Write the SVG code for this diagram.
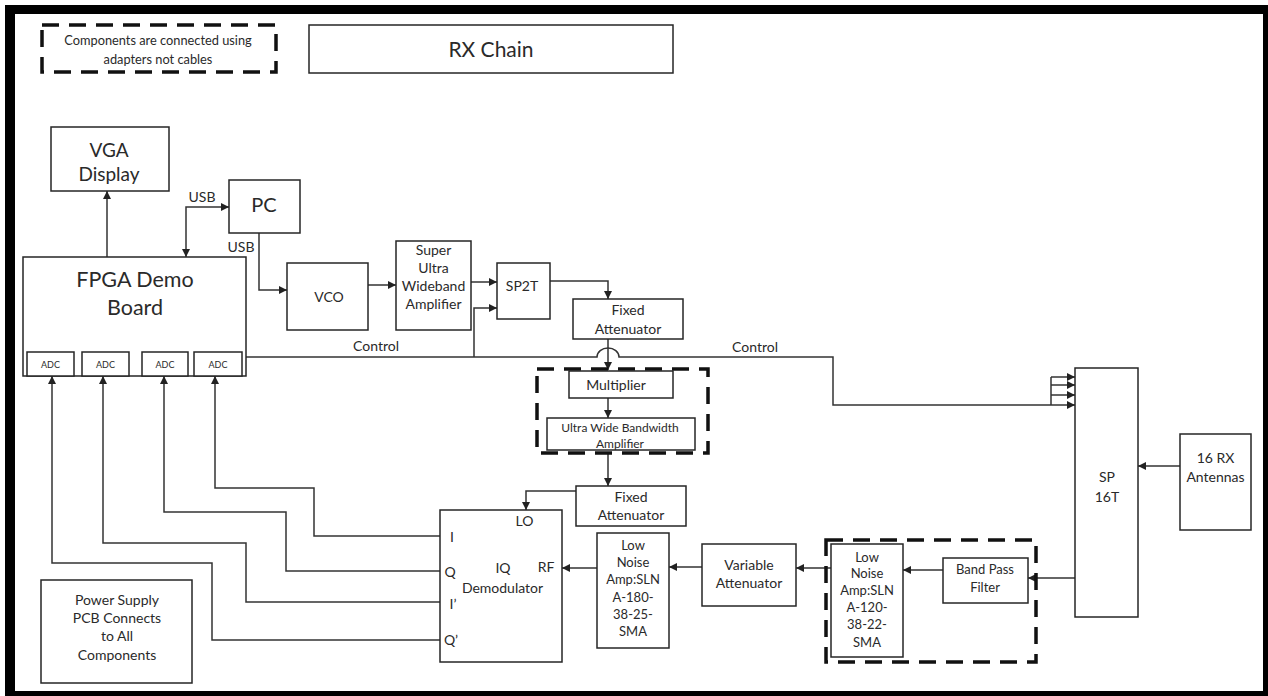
<svg xmlns="http://www.w3.org/2000/svg" width="1268" height="696" viewBox="0 0 1268 696">
  <style>
    .box { fill: #fff; stroke: #262626; stroke-width: 1.5; }
    .grp { fill: none; stroke: #111; stroke-width: 3.5; stroke-dasharray: 17 10; }
    .wire { fill: none; stroke: #333; stroke-width: 1.5; }
    .arr { marker-end: url(#head); }
    text { font-family: Lato, "Liberation Sans", sans-serif; fill: #2a2a2a; text-anchor: middle; }
    .t14 { font-size: 14px; }
    .t13 { font-size: 13px; }
    .t12 { font-size: 12px; }
    .adc { font-size: 9px; }
  </style>
  <defs>
    <marker id="head" markerUnits="userSpaceOnUse" markerWidth="9" markerHeight="8" refX="8" refY="4" orient="auto-start-reverse">
      <path d="M0,0 L8,4 L0,8 Z" fill="#222"/>
    </marker>
  </defs>

  <!-- page frame -->
  <rect x="5" y="5" width="1263" height="691" fill="#000"/>
  <rect x="15" y="14" width="1248" height="677" fill="#fff"/>

  <!-- legend -->
  <g id="legend">
    <rect class="grp" x="42" y="25" width="234" height="47" stroke-width="4" stroke-dasharray="16 10"/>
    <text x="158" y="45" font-size="12.8">Components are connected using</text>
    <text x="158" y="64" font-size="12.8">adapters not cables</text>
  </g>

  <g id="title">
    <rect class="box" x="309" y="25" width="364" height="48"/>
    <text x="491" y="57" font-size="21">RX Chain</text>
  </g>

  <!-- connectors -->
  <g id="connectors">
    <path class="wire arr" d="M107,257 V191"/>
    <path class="wire arr" d="M186,257 V207 H229" marker-start="url(#head)"/>
    <path class="wire arr" d="M259,232 V290 H287"/>
    <path class="wire arr" d="M368,285 H396"/>
    <path class="wire arr" d="M471,282 H497"/>
    <path class="wire arr" d="M550,281 H608 V299"/>
    <!-- control bus with a hop over the attenuator feed -->
    <path class="wire" d="M246,357 H597 A11,9 0 0 1 619,357 H833 V405 H1051"/>
    <path class="wire arr" d="M474,357 V308 H497"/>
    <path class="wire" d="M1051,377 V405"/>
    <path class="wire arr" d="M1051,377 H1075"/>
    <path class="wire arr" d="M1051,385 H1075"/>
    <path class="wire arr" d="M1051,395 H1075"/>
    <path class="wire arr" d="M1051,405 H1075"/>
    <path class="wire arr" d="M608,339 V370"/>
    <path class="wire arr" d="M608,398 V418"/>
    <path class="wire arr" d="M608,452 V486"/>
    <path class="wire arr" d="M576,491 H526 V510"/>
    <path class="wire arr" d="M1180,466 H1138"/>
    <path class="wire arr" d="M1075,578 H1028"/>
    <path class="wire arr" d="M943,570 H903"/>
    <path class="wire arr" d="M831,568 H796"/>
    <path class="wire arr" d="M702,567 H669"/>
    <path class="wire arr" d="M597,568 H562"/>
    <!-- IQ outputs to the ADCs -->
    <path class="wire arr" d="M440,640 H212 V563 H52 V376"/>
    <path class="wire arr" d="M440,602 H246 V543 H103 V376"/>
    <path class="wire arr" d="M440,571 H286 V512 H164 V376"/>
    <path class="wire arr" d="M440,536 H314 V488 H215 V376"/>
  </g>

  <g id="connector-labels">
    <text class="t14" x="202" y="202">USB</text>
    <text class="t14" x="241" y="252">USB</text>
    <text class="t14" x="376" y="351">Control</text>
    <text class="t14" x="755" y="352">Control</text>
  </g>

  <g id="vga">
    <rect class="box" x="51" y="127" width="118" height="64"/>
    <text x="109" y="157" font-size="19">VGA</text>
    <text x="109" y="181" font-size="19">Display</text>
  </g>

  <g id="pc">
    <rect class="box" x="229" y="180" width="71" height="53"/>
    <text x="264" y="212" font-size="20">PC</text>
  </g>

  <g id="fpga">
    <rect class="box" x="23" y="257" width="223" height="119"/>
    <text x="135" y="287" font-size="21.5">FPGA Demo</text>
    <text x="135" y="315" font-size="21.5">Board</text>
  </g>

  <g id="adc1">
    <rect class="box" x="27" y="352" width="47" height="24"/>
    <text class="adc" x="50.5" y="368">ADC</text>
  </g>
  <g id="adc2">
    <rect class="box" x="82" y="352" width="47" height="24"/>
    <text class="adc" x="105.5" y="368">ADC</text>
  </g>
  <g id="adc3">
    <rect class="box" x="142" y="352" width="46" height="24"/>
    <text class="adc" x="165" y="368">ADC</text>
  </g>
  <g id="adc4">
    <rect class="box" x="194" y="352" width="48" height="24"/>
    <text class="adc" x="218" y="368">ADC</text>
  </g>

  <g id="vco">
    <rect class="box" x="287" y="263" width="81" height="67"/>
    <text class="t14" x="329" y="302">VCO</text>
  </g>

  <g id="suwa">
    <rect class="box" x="396" y="241" width="75" height="89"/>
    <text class="t14" x="433.5" y="255">Super</text>
    <text class="t14" x="433.5" y="273">Ultra</text>
    <text class="t14" x="433.5" y="291">Wideband</text>
    <text class="t14" x="433.5" y="309">Amplifier</text>
  </g>

  <g id="sp2t">
    <rect class="box" x="497" y="263" width="53" height="56"/>
    <text class="t14" x="522" y="291">SP2T</text>
  </g>

  <g id="fixed-att-1">
    <rect class="box" x="573" y="299" width="110" height="40"/>
    <text class="t14" x="628" y="315">Fixed</text>
    <text class="t14" x="628" y="334">Attenuator</text>
  </g>

  <g id="lo-group">
    <rect class="grp" x="537" y="369" width="171" height="84"/>
  </g>

  <g id="multiplier">
    <rect class="box" x="569" y="371" width="104" height="27"/>
    <text class="t14" x="616" y="390">Multiplier</text>
  </g>

  <g id="uwba">
    <rect class="box" x="547" y="418" width="148" height="32"/>
    <text class="t12" x="620" y="432">Ultra Wide Bandwidth</text>
    <text class="t12" x="620" y="448">Amplifier</text>
  </g>

  <g id="fixed-att-2">
    <rect class="box" x="576" y="486" width="110" height="40"/>
    <text class="t14" x="631" y="502">Fixed</text>
    <text class="t14" x="631" y="520">Attenuator</text>
  </g>

  <g id="iq-demod">
    <rect class="box" x="440" y="510" width="122" height="152"/>
    <text class="t14" x="524.5" y="526">LO</text>
    <text class="t14" x="452" y="542">I</text>
    <text class="t14" x="450" y="577">Q</text>
    <text class="t14" x="503" y="573">IQ</text>
    <text class="t14" x="546" y="572">RF</text>
    <text class="t14" x="502.5" y="593">Demodulator</text>
    <text class="t14" x="453" y="609">I’</text>
    <text class="t14" x="451" y="645">Q’</text>
  </g>

  <g id="lna-1">
    <rect class="box" x="597" y="533" width="72" height="115"/>
    <text class="t13" x="633" y="550">Low</text>
    <text class="t13" x="633" y="567">Noise</text>
    <text class="t13" x="633" y="584">Amp:SLN</text>
    <text class="t13" x="633" y="602">A-180-</text>
    <text class="t13" x="633" y="619">38-25-</text>
    <text class="t13" x="633" y="636">SMA</text>
  </g>

  <g id="var-att">
    <rect class="box" x="702" y="544" width="94" height="62"/>
    <text class="t14" x="749" y="570">Variable</text>
    <text class="t14" x="749" y="588">Attenuator</text>
  </g>

  <g id="front-end-group">
    <rect class="grp" x="826" y="540" width="210" height="122"/>
  </g>

  <g id="lna-2">
    <rect class="box" x="831" y="544" width="72" height="113"/>
    <text class="t13" x="867" y="562">Low</text>
    <text class="t13" x="867" y="578">Noise</text>
    <text class="t13" x="867" y="595">Amp:SLN</text>
    <text class="t13" x="867" y="612">A-120-</text>
    <text class="t13" x="867" y="629">38-22-</text>
    <text class="t13" x="867" y="647">SMA</text>
  </g>

  <g id="bpf">
    <rect class="box" x="943" y="558" width="85" height="45"/>
    <text class="t13" x="985" y="574">Band Pass</text>
    <text class="t13" x="985" y="592">Filter</text>
  </g>

  <g id="sp16t">
    <rect class="box" x="1075" y="368" width="63" height="249"/>
    <text class="t14" x="1107" y="482">SP</text>
    <text class="t14" x="1107" y="502">16T</text>
  </g>

  <g id="antennas">
    <rect class="box" x="1180" y="434" width="71" height="96"/>
    <text class="t14" x="1215.5" y="463">16 RX</text>
    <text class="t14" x="1215.5" y="482">Antennas</text>
  </g>

  <g id="power">
    <rect class="box" x="41" y="580" width="151" height="103"/>
    <text class="t14" x="117" y="605">Power Supply</text>
    <text class="t14" x="117" y="623">PCB Connects</text>
    <text class="t14" x="117" y="641">to All</text>
    <text class="t14" x="117" y="660">Components</text>
  </g>
</svg>
